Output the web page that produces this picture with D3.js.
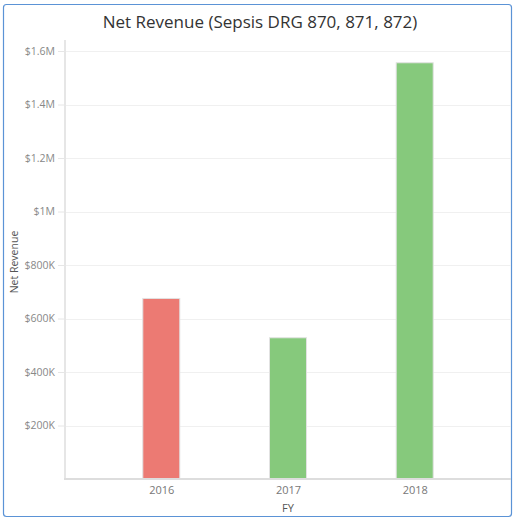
<!DOCTYPE html>
<html><head><meta charset="utf-8">
<script src="https://cdn.jsdelivr.net/npm/d3@7"></script>
<style>
html,body{margin:0;padding:0;background:#fff;}
svg{display:block;font-family:"Open Sans",sans-serif;}
</style></head>
<body>
<svg id="chart" width="514" height="520"></svg>
<script>
const categories = ["2016", "2017", "2018"];
const values = [675000, 528000, 1556000];
const barColors = ["#ec7a73", "#86c97c", "#86c97c"];
const yTicks = [200000, 400000, 600000, 800000, 1000000, 1200000, 1400000, 1600000];
const yTickLabels = ["$200K", "$400K", "$600K", "$800K", "$1M", "$1.2M", "$1.4M", "$1.6M"];

(function () {
const svg = d3.select("#chart");
// container border
svg.append("rect").attr("x", 3.5).attr("y", 4.5).attr("width", 508).attr("height", 512)
  .attr("rx", 3).attr("fill", "#fff").attr("stroke", "#5b93d6").attr("stroke-width", 1.2);

const mLeft = 65, mRight = 511, mTop = 51, mBottom = 479;
const x = d3.scalePoint().domain(categories).range([mLeft, mRight]).padding(0.76);
const y = d3.scaleLinear().domain([0, 1600000]).range([mBottom, mTop]);

svg.append("text").attr("x", 260).attr("y", 28).attr("text-anchor", "middle")
  .attr("font-size", 17).attr("fill", "#333").text("Net Revenue (Sepsis DRG 870, 871, 872)");

// gridlines
svg.append("g").selectAll("line").data(yTicks).join("line")
  .attr("x1", mLeft).attr("x2", mRight).attr("y1", d => Math.round(y(d)) + 0.5).attr("y2", d => Math.round(y(d)) + 0.5)
  .attr("stroke", "#f0f0f0").attr("stroke-width", 1);

// y axis
const yAxis = d3.axisLeft(y).tickValues(yTicks).tickSize(7).tickPadding(3)
  .tickFormat((d, i) => yTickLabels[i]);
const gy = svg.append("g").attr("transform", `translate(${mLeft},0)`).call(yAxis);
gy.select(".domain").attr("stroke", "#e6e6e6").attr("stroke-width", 2).attr("d", `M0,${mTop - 11}V${mBottom}`);
gy.selectAll(".tick line").attr("stroke", "#e6e6e6");
gy.selectAll(".tick text").attr("fill", "#888").attr("font-size", 10.5).attr("font-family", "Open Sans, sans-serif");

// bars
const barW = 37;
svg.append("g").selectAll("rect").data(categories).join("rect")
  .attr("x", d => x(d) - barW / 2).attr("width", barW)
  .attr("y", (d, i) => y(values[i])).attr("height", (d, i) => mBottom - y(values[i]))
  .attr("fill", (d, i) => barColors[i]).attr("stroke", "#e2e2e2").attr("stroke-width", 1);

// x axis
const xAxis = d3.axisBottom(x).tickSize(0).tickPadding(7);
const gx = svg.append("g").attr("transform", `translate(0,${mBottom})`).call(xAxis);
gx.select(".domain").attr("stroke", "#dddddd").attr("stroke-width", 2).attr("d", `M${mLeft - 1},0H${mRight}`);
gx.selectAll(".tick text").attr("fill", "#777").attr("font-size", 11).attr("font-family", "Open Sans, sans-serif");

svg.append("text").attr("x", 288).attr("y", 512).attr("text-anchor", "middle")
  .attr("font-size", 11).attr("fill", "#555").text("FY");
svg.append("text").attr("transform", "translate(18,262) rotate(-90)").attr("text-anchor", "middle")
  .attr("font-size", 10.5).attr("fill", "#555").text("Net Revenue");
})();
</script>
</body></html>
